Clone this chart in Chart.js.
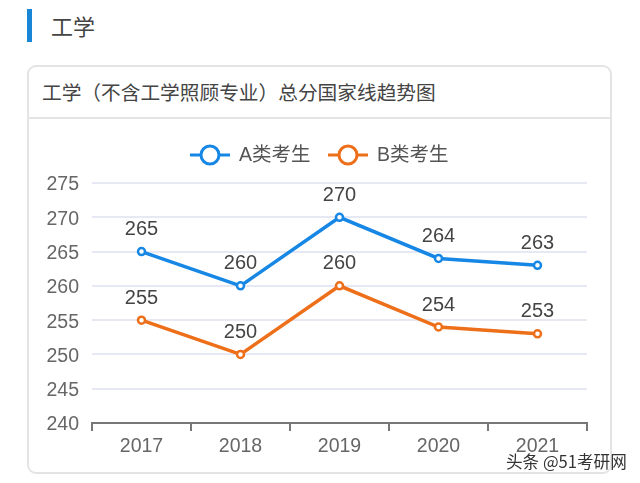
<!DOCTYPE html>
<html>
<head>
<meta charset="utf-8">
<script src="https://cdn.jsdelivr.net/npm/chart.js@4"></script>
<style>
  html, body { margin: 0; padding: 0; background: #fff; }
  body { position: relative; width: 640px; height: 483px; overflow: hidden; font-family: "Noto Sans CJK SC", sans-serif; }
  .bar { position: absolute; left: 27px; top: 9px; width: 5px; height: 33px; background: #1a86d8; }
  .heading { position: absolute; left: 51px; top: 9px; font-size: 22px; line-height: 33px; color: #444; }
  .card { position: absolute; left: 27px; top: 65px; width: 581px; height: 405px; border: 2px solid #e4e4e7; border-radius: 9px; }
  .card-title { position: absolute; left: 42px; top: 78px; font-size: 19.7px; line-height: 28px; color: #444; white-space: nowrap; }
  .divider { position: absolute; left: 29px; top: 117px; width: 581px; height: 2px; background: #e4e4e7; }
  canvas { position: absolute; left: 0; top: 0; }
  .mark { position: absolute; left: 506px; top: 449px; font-size: 16.6px; line-height: 24px; color: #333; white-space: nowrap; text-shadow: 0 0 2px #fff, 0 0 2px #fff; }
</style>
</head>
<body>
<div class="bar"></div>
<div class="heading">工学</div>
<div class="card"></div>
<div class="card-title">工学（不含工学照顾专业）总分国家线趋势图</div>
<div class="divider"></div>
<canvas id="chart" width="640" height="483"></canvas>
<div class="mark">头条 @51考研网</div>
<script>
const years = ["2017", "2018", "2019", "2020", "2021"];
const seriesA = [265, 260, 270, 264, 263];
const seriesB = [255, 250, 260, 254, 253];
const seriesNames = ["A类考生", "B类考生"];
const blue = "#1787e6";
const orange = "#ee6f1a";
const latin = '"Liberation Sans", sans-serif';

const valueLabels = {
  id: "valueLabels",
  afterDatasetsDraw(chart) {
    const { ctx } = chart;
    ctx.save();
    ctx.font = "20px " + latin;
    ctx.fillStyle = "#444";
    ctx.textAlign = "center";
    ctx.textBaseline = "middle";
    chart.data.datasets.forEach((ds, i) => {
      chart.getDatasetMeta(i).data.forEach((pt, j) => {
        ctx.fillText(ds.data[j], pt.x, pt.y - 22);
      });
    });
    ctx.restore();
  }
};

// y labels sit a touch lower than Chart.js would put them
const yLabels = {
  id: "yLabels",
  afterDraw(chart) {
    const { ctx, scales } = chart;
    ctx.save();
    ctx.font = "19.5px " + latin;
    ctx.fillStyle = "#666";
    ctx.textAlign = "right";
    ctx.textBaseline = "middle";
    scales.y.ticks.forEach((tick) => {
      ctx.fillText(tick.value, 79, scales.y.getPixelForValue(tick.value) + 2);
    });
    ctx.restore();
  }
};

const lineLegend = {
  id: "lineLegend",
  afterDraw(chart) {
    const { ctx } = chart;
    const centers = [210, 348];
    ctx.save();
    chart.data.datasets.forEach((ds, i) => {
      const x = centers[i];
      const y = 155;
      ctx.strokeStyle = ds.borderColor;
      ctx.lineWidth = 3;
      ctx.beginPath();
      ctx.moveTo(x - 20, y);
      ctx.lineTo(x + 20, y);
      ctx.stroke();
      ctx.fillStyle = "#fff";
      ctx.beginPath();
      ctx.arc(x, y, 9, 0, Math.PI * 2);
      ctx.fill();
      ctx.stroke();
      ctx.fillStyle = "#555";
      ctx.font = '19.5px "Liberation Sans", "Noto Sans CJK SC", sans-serif';
      ctx.textAlign = "left";
      ctx.textBaseline = "middle";
      ctx.fillText(ds.label, x + 29, y + 1);
    });
    ctx.restore();
  }
};

function lineSeries(label, data, color) {
  return {
    label,
    data,
    borderColor: color,
    backgroundColor: "#fff",
    borderWidth: 3.5,
    tension: 0,
    pointRadius: 3.5,
    pointBorderWidth: 2.5,
    pointBackgroundColor: "#fff",
    pointBorderColor: color
  };
}

new Chart(document.getElementById("chart"), {
  type: "line",
  data: {
    labels: years,
    datasets: [
      lineSeries(seriesNames[0], seriesA, blue),
      lineSeries(seriesNames[1], seriesB, orange)
    ]
  },
  plugins: [valueLabels, yLabels, lineLegend],
  options: {
    responsive: false,
    animation: false,
    devicePixelRatio: 1,
    layout: { padding: { top: 183, right: 53, bottom: 0, left: 0 } },
    plugins: { legend: { display: false }, tooltip: { enabled: false } },
    scales: {
      x: {
        type: "category",
        offset: true,
        afterFit(scale) { scale.height = 60; },
        grid: { offset: true, drawOnChartArea: false, color: "#777", lineWidth: 2, tickLength: 8 },
        border: { color: "#777", width: 2 },
        ticks: { color: "#666", padding: 4, font: { family: latin, size: 19.5 }, maxRotation: 0 }
      },
      y: {
        min: 240,
        max: 275,
        afterFit(scale) { scale.width = 92; },
        grid: { color: "#e6e8f4", lineWidth: 2, drawTicks: false },
        border: { display: false },
        ticks: { stepSize: 5, display: false }
      }
    }
  }
});
</script>
</body>
</html>
